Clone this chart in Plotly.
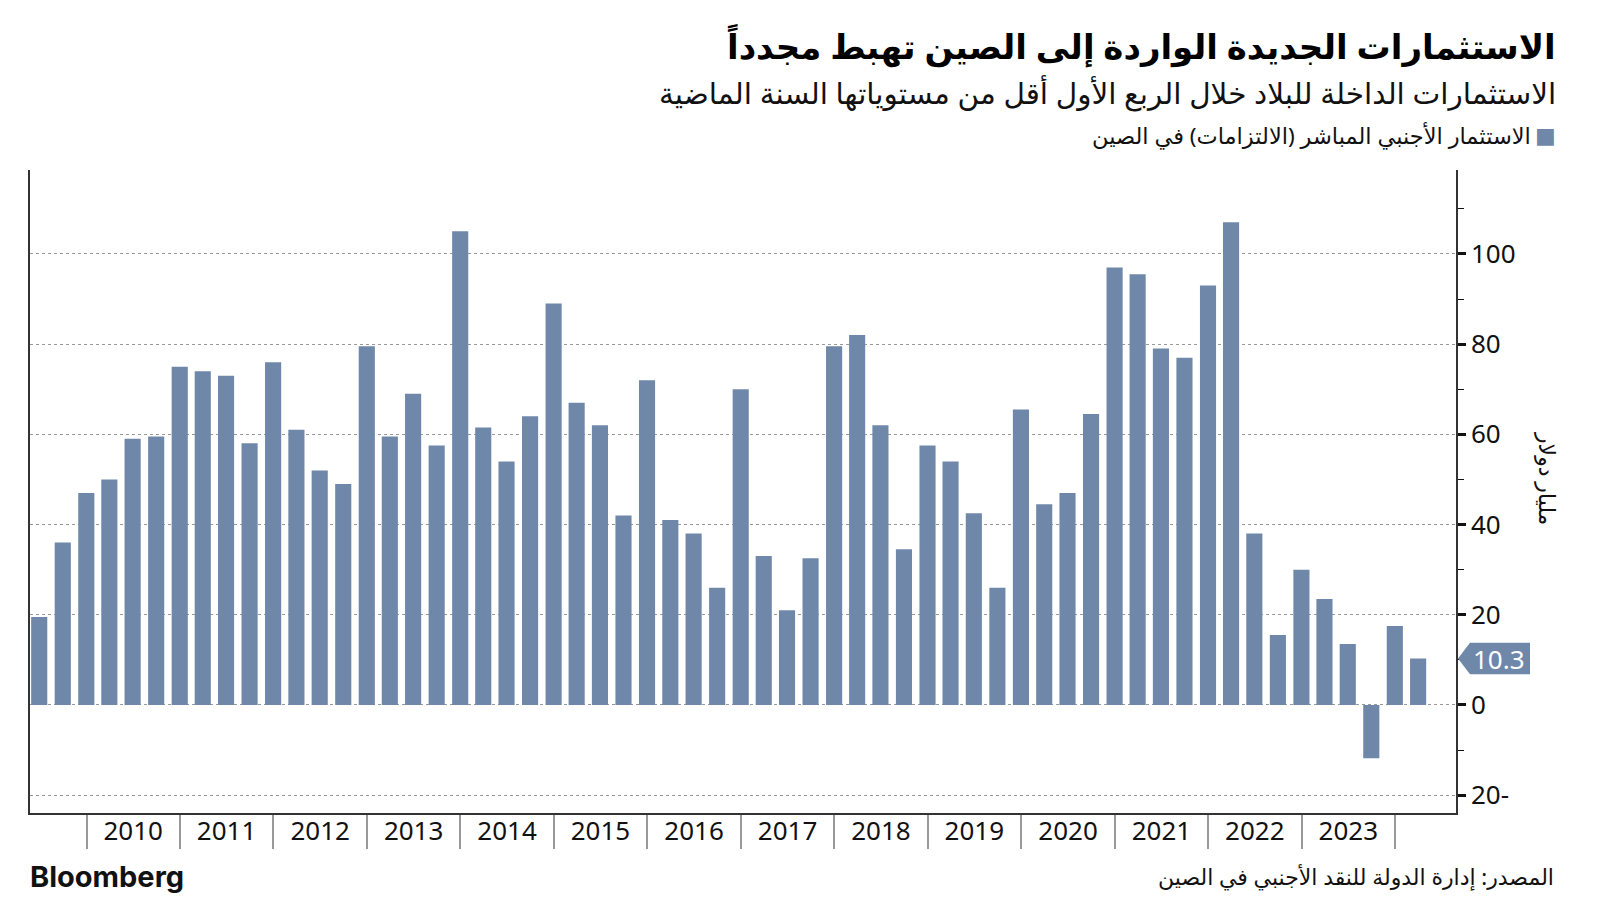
import plotly.graph_objects as go
import pandas as pd

# Quarter-end dates, 2009 Q2 .. 2024 Q1
quarters = pd.date_range("2009-06-30", periods=60, freq="QE")

# China FDI liabilities, USD bn
fdi_values = [
    19.5, 36.0, 47.0, 50.0,
    59.0, 59.5, 75.0, 74.0,
    73.0, 58.0, 76.0, 61.0,
    52.0, 49.0, 79.5, 59.5,
    69.0, 57.5, 105.0, 61.5,
    54.0, 64.0, 89.0, 67.0,
    62.0, 42.0, 72.0, 41.0,
    38.0, 26.0, 70.0, 33.0,
    21.0, 32.5, 79.5, 82.0,
    62.0, 34.5, 57.5, 54.0,
    42.5, 26.0, 65.5, 44.5,
    47.0, 64.5, 97.0, 95.5,
    79.0, 77.0, 93.0, 107.0,
    38.0, 15.5, 30.0, 23.5,
    13.5, -11.8, 17.5, 10.3,
]

year_labels = [str(y) for y in range(2010, 2024)]
year_mid = [f"{y}-07-02" for y in range(2010, 2024)]
y_tickvals = [-20, 0, 20, 40, 60, 80, 100]
y_ticktext = ["20-", "0", "20", "40", "60", "80", "100"]

title_text = "الاستثمارات الجديدة الواردة إلى الصين تهبط مجدداً"
subtitle_text = "الاستثمارات الداخلة للبلاد خلال الربع الأول أقل من مستوياتها السنة الماضية"
legend_text = "الاستثمار الأجنبي المباشر (الالتزامات) في الصين"
unit_text = "مليار دولار"
source_text = "المصدر: إدارة الدولة للنقد الأجنبي في الصين"

BAR = "#6F88AA"
FONT = "Noto Sans, DejaVu Sans, sans-serif"

# page has an 8px body margin; figure sized to fit the 1600x901 window
W, H = 1584, 885
ML, MR, MT, MB = 22, 136, 162, 80
PW, PH = W - ML - MR, H - MT - MB


def px_x(X):
    return (X - 8 - ML) / PW


def px_y(Y):
    return (H - MB - (Y - 8)) / PH


fig = go.Figure()
fig.add_trace(go.Bar(
    x=quarters, y=fdi_values, marker=dict(color=BAR, line=dict(width=0)),
    showlegend=False,
))

fig.update_layout(
    width=W, height=H,
    margin=dict(l=ML, r=MR, t=MT, b=MB, autoexpand=False),
    paper_bgcolor="white", plot_bgcolor="white",
    bargap=0.3,
    font=dict(family=FONT, color="#111"),
    xaxis=dict(
        type="date",
        range=["2009-05-25", "2024-08-26"],
        tickvals=year_mid, ticktext=year_labels,
        ticks="", showgrid=False, zeroline=False,
        showline=True, linecolor="#333", linewidth=1.5,
        tickfont=dict(size=26, family=FONT, color="#111"),
        ticklabelstandoff=-6,
        minor=dict(tick0="2010-01-01", dtick="M12", ticks="outside",
                   ticklen=34, tickcolor="#999", tickwidth=1.5, showgrid=False),
    ),
    yaxis=dict(
        side="right",
        range=[-23.95, 118.6],
        tickvals=y_tickvals, ticktext=y_ticktext,
        ticks="outside", ticklen=8, tickwidth=3, tickcolor="#111",
        showgrid=True, gridcolor="#999", griddash="dot", gridwidth=1,
        zeroline=False,
        showline=True, mirror=True, linecolor="#333", linewidth=1.5,
        tickfont=dict(size=26, family=FONT, color="#111"),
        minor=dict(dtick=20, tick0=10, ticks="outside", ticklen=6,
                   tickcolor="#111", tickwidth=1, showgrid=False),
    ),
)

ann_common = dict(xref="paper", yref="paper", showarrow=False)

# Title, subtitle, legend
fig.add_annotation(text=f"<b>{title_text}</b>", x=px_x(1558), y=px_y(46),
                   xanchor="right", yanchor="middle",
                   font=dict(size=34, color="#000", family=FONT), **ann_common)
fig.add_annotation(text=subtitle_text, x=px_x(1558), y=px_y(92),
                   xanchor="right", yanchor="middle",
                   font=dict(size=29.5, color="#111", family=FONT), **ann_common)
fig.add_annotation(text="■", x=px_x(1558), y=px_y(136),
                   xanchor="right", yanchor="middle",
                   font=dict(size=22, color=BAR, family="DejaVu Sans"), **ann_common)
fig.add_annotation(text=legend_text, x=px_x(1533), y=px_y(136),
                   xanchor="right", yanchor="middle",
                   font=dict(size=22.5, color="#111", family=FONT), **ann_common)

# Unit label on the right
fig.add_annotation(text=unit_text, x=px_x(1548), y=px_y(478), textangle=90,
                   xanchor="center", yanchor="middle",
                   font=dict(size=22, color="#111", family=FONT), **ann_common)

# Last value tag (pointer shape anchored on the data value)
last_val = fdi_values[-1]
half = 3.5
fig.add_shape(
    type="path", xref="paper", yref="y",
    path=(f"M {px_x(1458)},{last_val} L {px_x(1470)},{last_val + half} "
          f"L {px_x(1530)},{last_val + half} L {px_x(1530)},{last_val - half} "
          f"L {px_x(1470)},{last_val - half} Z"),
    fillcolor=BAR, line=dict(width=0), layer="above",
)
fig.add_annotation(text=f"{last_val}", x=px_x(1499), y=last_val, yref="y", xref="paper",
                   xanchor="center", yanchor="middle", showarrow=False,
                   font=dict(size=26, color="white", family=FONT))

# Footer
fig.add_annotation(text="<b>Bloomberg</b>", x=px_x(28), y=px_y(876),
                   xanchor="left", yanchor="middle",
                   font=dict(size=29, color="#111", family="Inter, Roboto, sans-serif"), **ann_common)
fig.add_annotation(text=source_text, x=px_x(1556), y=px_y(876),
                   xanchor="right", yanchor="middle",
                   font=dict(size=22, color="#111", family=FONT), **ann_common)

fig.write_html("out.html")
